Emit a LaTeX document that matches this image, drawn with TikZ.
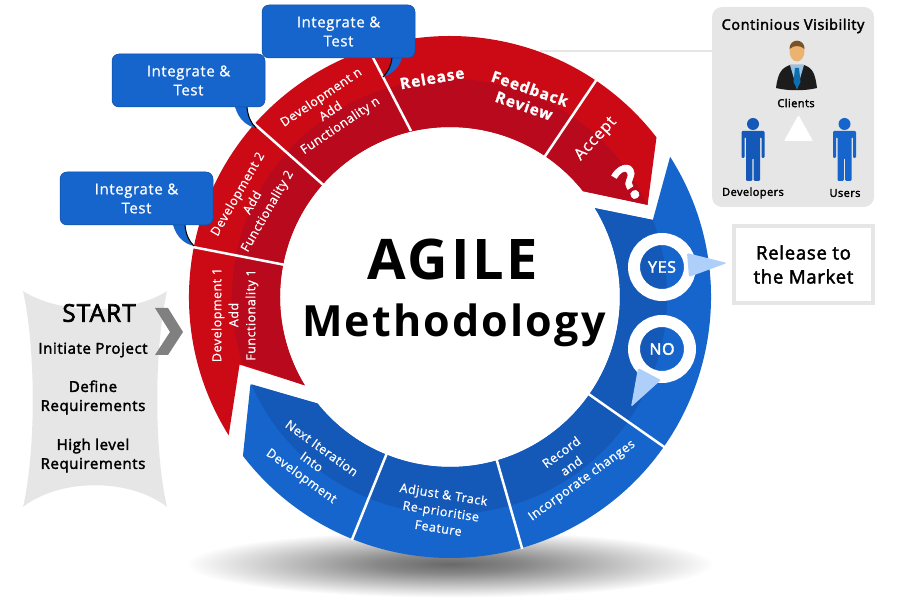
\documentclass[tikz,border=0pt]{standalone}
\usepackage{fontspec}
\setmainfont{Open Sans}[LetterSpace=4,FakeBold=.7]
\newfontfamily\medfont{Open Sans}[LetterSpace=4,FakeBold=2.4]
\newfontfamily\heavyfont{Open Sans}[LetterSpace=6,FakeBold=1]
\newfontfamily\titlefont{Open Sans}[LetterSpace=5]

\definecolor{ringred}{RGB}{204,10,22}
\definecolor{ringreddark}{RGB}{184,10,28}
\definecolor{ringblue}{RGB}{21,101,204}
\definecolor{ringbluedark}{RGB}{20,88,184}
\definecolor{panelgrey}{RGB}{230,230,230}
\definecolor{chevrongrey}{RGB}{128,128,128}
\definecolor{pointerblue}{RGB}{175,207,251}
\definecolor{floorgrey}{RGB}{105,105,105}
\definecolor{skintone}{RGB}{236,178,112}
\definecolor{hairbrown}{RGB}{122,82,40}
\definecolor{shirtblue}{RGB}{150,195,232}
\definecolor{tieblue}{RGB}{15,110,175}
\definecolor{jacketblack}{RGB}{28,28,28}

\pgfdeclareradialshading{floorshade}{\pgfpointorigin}{color(0bp)=(floorgrey); color(6bp)=(floorgrey!80!white); color(14bp)=(floorgrey!40!white); color(22bp)=(white); color(50bp)=(white)}

\tikzset{
    seglabel/.style={text=white, align=center, font=\fontsize{12.5}{17}\selectfont},
    boldlabel/.style={text=white, align=center, font=\heavyfont\bfseries\fontsize{15.5}{18}\selectfont},
    callout/.style={fill=ringblue, draw=ringblue!75!black, line width=.5pt, rounded corners=7pt,
        minimum width=153pt, minimum height=53pt, text=white, align=center,
        font=\fontsize{15}{19}\selectfont},
    tail/.style={fill=ringblue},
    tailedge/.style={draw=black, line width=1pt},
    divider/.style={draw=white, line width=2.5pt},
    answer/.style={circle, draw=white, line width=12pt, minimum size=56pt, inner sep=0pt,
        text=white, font=\medfont\fontsize{16}{18}\selectfont},
    pointer/.style={fill=pointerblue, rounded corners=1.5pt},
    darktext/.style={text=black, align=center, font=\medfont\fontsize{15}{19}\selectfont},
    smalltext/.style={text=black, font=\medfont\fontsize{11}{12}\selectfont},
    pics/person/.style={code={
        \fill[#1] (0,0) circle (6);
        \fill[#1, rounded corners=1.2pt] (-11.5,-7) -- (11.5,-7) -- (11.5,-34) -- (8.5,-34)
            -- (8.5,-13) -- (7,-13) -- (7,-57) -- (.7,-57) -- (.7,-34) -- (-.7,-34)
            -- (-.7,-57) -- (-7,-57) -- (-7,-13) -- (-8.5,-13) -- (-8.5,-34) -- (-11.5,-34) -- cycle;
    }}
}

\begin{document}
\begin{tikzpicture}[x=1pt,y=1pt]
    \useasboundingbox (0,0) rectangle (900,600);

    % floor shadow
    \shade[shading=floorshade] (450,36) ellipse [x radius=300, y radius=38];

    % continuous visibility panel and its line
    \node[fill=panelgrey, rounded corners=10pt, minimum width=162pt, minimum height=200pt] (visibility) at (793,493) {};
    \coordinate (ringedge) at (540,549);
    \draw[panelgrey, line width=1.5pt] (ringedge) -- (visibility.west |- ringedge);

    % the ring
    \begin{scope}[shift={(450,303)}]
        \fill[ringred] (212:261) arc (212:37.7:261) -- (25:218) -- (38.5:170) arc (38.5:211.3:170) -- (197.8:221) -- cycle;
        \fill[ringreddark] (25:218) arc (25:197.8:218) -- (211.3:170) arc (211.3:38.5:170) -- cycle;
        \fill[ringblue] (32.5:261) arc (32.5:-142.5:261) -- (-156.3:218) -- (-141.2:170) arc (-141.2:31.5:170) -- (20.8:217) -- cycle;
        \fill[ringbluedark] (20.8:217) arc (20.8:-156.3:217) -- (-141.2:170) arc (-141.2:31.5:170) -- cycle;
        \foreach \a in {169,138.5,56,248,-74,-35}
            \draw[divider] (\a:169) -- (\a:262);
    \end{scope}
    \draw[divider] (411,469) -- (369,550);

    % call-out tails
    \foreach \x/\y in {0/0,62/-118}{
        \fill[tail] (173+\x,375-\y) .. controls (177+\x,362-\y) and (185+\x,356-\y) .. (194+\x,354-\y)
            .. controls (189+\x,359-\y) and (186+\x,365-\y) .. (185+\x,375-\y) -- cycle;
        \draw[tailedge] (194+\x,354-\y) .. controls (189+\x,359-\y) and (186+\x,365-\y) .. (185+\x,375-\y);
    }
    \fill[tail] (402,542) .. controls (399,532) and (392,526) .. (383,523)
        .. controls (388,528) and (391,534) .. (392,542) -- cycle;
    \draw[tailedge] (383,523) .. controls (388,528) and (391,534) .. (392,542);

    % call-outs
    \node[callout] (integrateone) at (136.5,401.5) {Integrate \&\\Test};
    \node[callout] (integratetwo) at (188.5,519.5) {Integrate \&\\Test};
    \node[callout] (integraten) at (338.5,568.5) {Integrate \&\\Test};

    % red labels
    \node[seglabel, rotate=90] (devone) at (235,285) {Development 1\\Add\\Functionality 1};
    \node[seglabel, rotate=60] (devtwo) at (253,397) {Development 2\\Add\\Functionality 2};
    \node[seglabel, rotate=34] (devn) at (331,488) {Development n\\Add\\Functionality n};
    \node[boldlabel, rotate=10] (release) at (432,522) {Release};
    \node[boldlabel, rotate=-19] (feedback) at (527,503) {Feedback\\Review};
    \node[seglabel, rotate=47, font=\fontsize{16}{18}\selectfont] (accept) at (596,461) {Accept};
    \node[rotate=32, text=white, font=\heavyfont\bfseries\fontsize{48}{50}\selectfont] (question) at (629,418) {?};

    % blue labels
    \node[seglabel, rotate=-36] (nextiter) at (311,137) {Next Iteration\\Into\\Development};
    \node[seglabel, rotate=-9] (adjust) at (441,89) {Adjust \& Track\\Re-prioritise\\Feature};
    \node[seglabel, rotate=36] (record) at (572,133) {Record\\and\\Incorporate changes};

    % yes and no
    \node[answer] (yes) at (662,333) {YES};
    \node[answer] (no) at (662,251) {NO};
    \fill[pointer] (687,347) -- (727,337) -- (689,323) -- cycle;
    \fill[pointer] (638,232) -- (661,220) -- (631,193) -- cycle;

    % title
    \node[anchor=base, font=\titlefont\bfseries\fontsize{56}{60}\selectfont] (agile) at (453,320) {AGILE};
    \node[anchor=base, font=\titlefont\bfseries\fontsize{43}{50}\selectfont] (method) at (454,263) {Methodology};

    % release box
    \node[draw=panelgrey, line width=4pt, fill=white, minimum width=139pt, minimum height=77pt,
        darktext, font=\medfont\fontsize{18.5}{24}\selectfont] (market) at (803.5,335.5) {Release to\\the Market};

    % start panel
    \fill[panelgrey] (23,309) .. controls (60,285) and (130,285) .. (167,309)
        .. controls (154,250) and (154,150) .. (167,93)
        .. controls (130,122) and (60,122) .. (23,93)
        .. controls (36,150) and (36,250) .. cycle;
    \fill[chevrongrey] (155,292) -- (168,292) -- (183,268) -- (168,245) -- (155,245) -- (170,268) -- cycle;
    \node[text=black, font=\medfont\fontsize{24.5}{26}\selectfont] (start) at (99,287) {START};
    \node[darktext] (initiate) at (93,250) {Initiate Project};
    \node[darktext] (define) at (93,202.5) {Define\\Requirements};
    \node[darktext] (highlevel) at (93,144.5) {High level\\Requirements};

    % panel contents
    \node[text=black, font=\medfont\fontsize{14.5}{16}\selectfont] (conttitle) at (793,574) {Continious Visibility};
    \fill[jacketblack] (776,512) .. controls (778,528) and (782,532) .. (790,535) -- (804,535)
        .. controls (812,532) and (815,528) .. (817,512) .. controls (805,509) and (788,509) .. cycle;
    \fill[shirtblue] (790,535) -- (804,535) -- (797,511) -- cycle;
    \fill[tieblue] (795,532) -- (799,532) -- (800.5,518) -- (797,511) -- (793.5,518) -- cycle;
    \fill[skintone] (797,549) ellipse [x radius=7.5, y radius=10.5];
    \fill[hairbrown] (789.5,551) .. controls (789,562) and (805,562) .. (804.5,551)
        .. controls (800,555) and (794,555) .. cycle;
    \node[smalltext] (clients) at (796,497) {Clients};
    \fill[white, rounded corners=1pt] (784,459) -- (813,459) -- (798.5,485) -- cycle;
    \pic at (753,476) {person=ringbluedark};
    \pic at (844.5,476) {person=ringblue};
    \node[smalltext] (developers) at (753,407) {Developers};
    \node[smalltext] (users) at (845,407) {Users};
\end{tikzpicture}
\end{document}
